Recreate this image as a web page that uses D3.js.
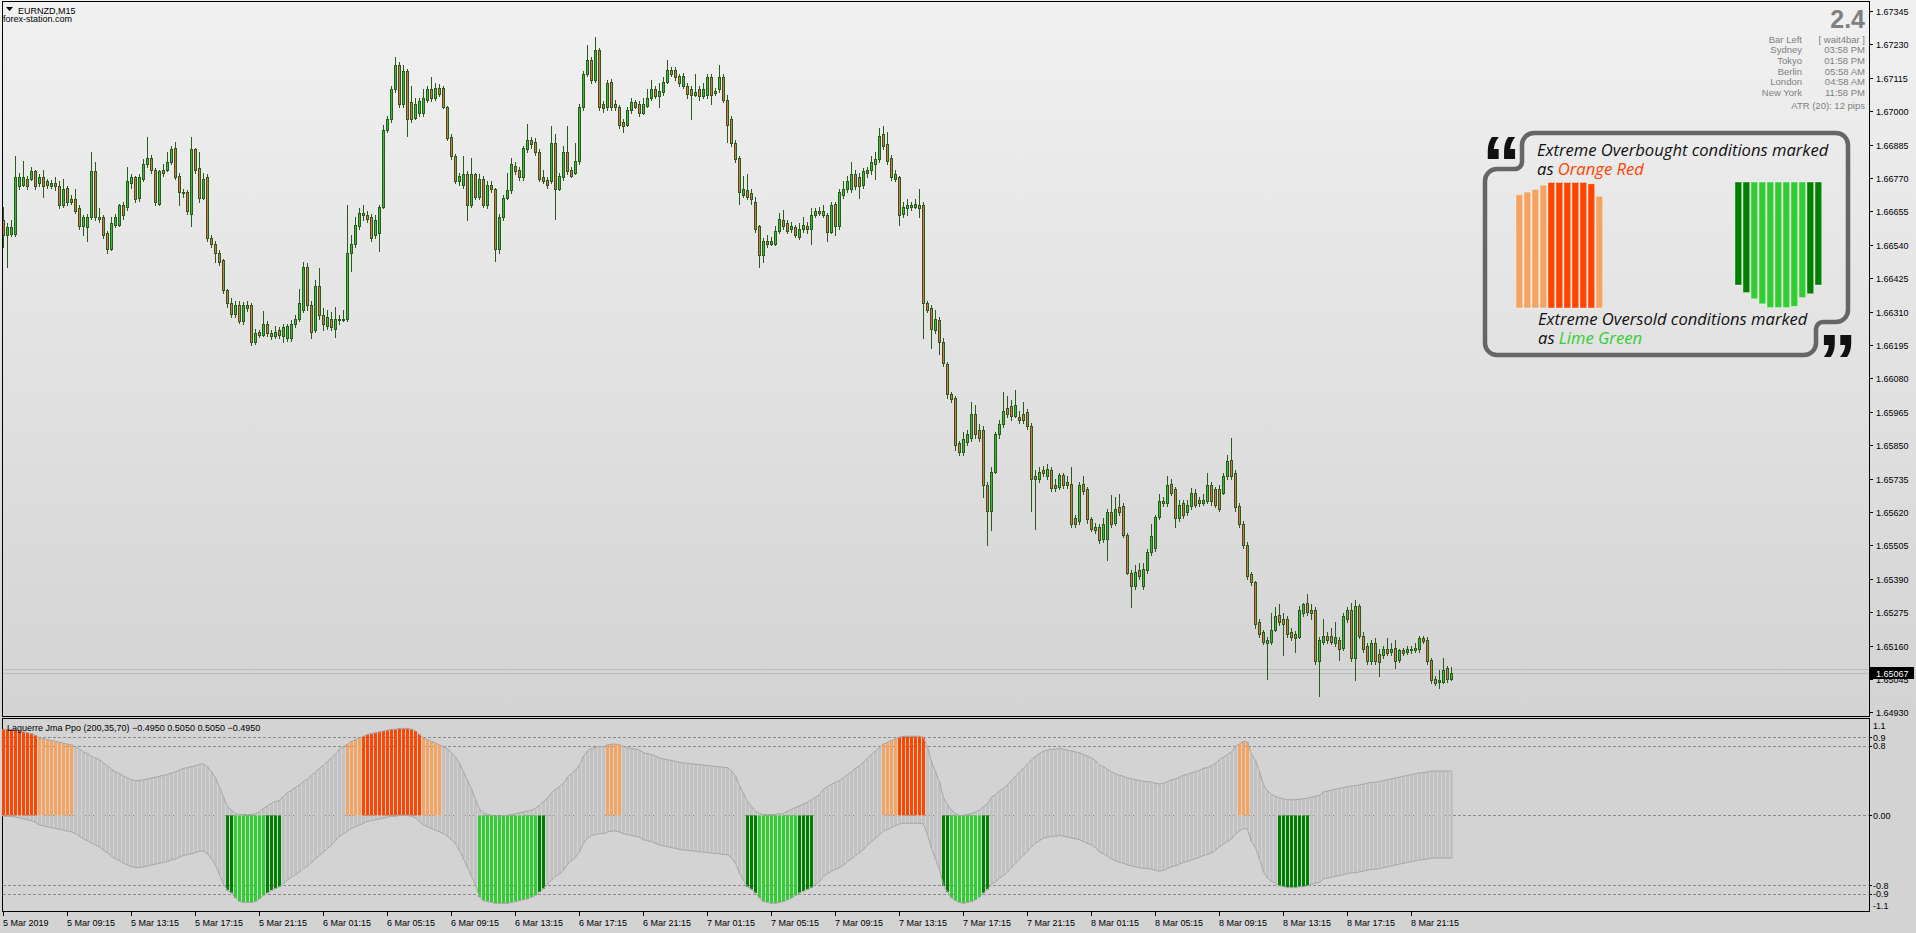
<!DOCTYPE html>
<html>
<head>
<meta charset="utf-8">
<title>EURNZD,M15</title>
<script src="https://cdn.jsdelivr.net/npm/d3@7"></script>
<style>
  html, body { margin: 0; padding: 0; background: #d3d3d3; overflow: hidden; }
  svg { display: block; }
  .mt { font-family: "Liberation Sans", Arial, sans-serif; font-size: 9px; fill: #000; }
  .info { font-family: "Liberation Sans", Arial, sans-serif; font-size: 9.5px; fill: #808080; }
  .note { font-family: "Open Sans", sans-serif; font-style: italic; font-size: 16.6px; fill: #111; }
  .quote { font-family: "Liberation Sans", Arial, sans-serif; font-weight: bold; font-size: 78px; fill: #111; }
</style>
</head>
<body>
<svg id="chart" width="1916" height="933"></svg>
<script>
// EURNZD M15 candles, 5 Mar 05:15 .. 8 Mar 23:45 (363 bars)
const opens = [
1.66624,1.66573,1.66577,1.66577,1.66743,1.66747,1.66768,1.66768,1.66795,1.66752,
1.66772,1.66758,1.66743,1.66752,1.66743,1.66676,1.66737,1.66686,1.66696,1.66665,
1.66604,1.66600,1.66635,1.66793,1.66635,1.66635,1.66579,1.66526,1.66608,1.66608,
1.66676,1.66670,1.66752,1.66772,1.66700,1.66768,1.66819,1.66840,1.66799,1.66682,
1.66799,1.66799,1.66825,1.66875,1.66778,1.66723,1.66723,1.66645,1.66871,1.66805,
1.66702,1.66772,1.66563,1.66543,1.66512,1.66487,1.66383,1.66338,1.66301,1.66333,
1.66276,1.66333,1.66333,1.66204,1.66239,1.66231,1.66266,1.66235,1.66225,1.66245,
1.66225,1.66219,1.66219,1.66266,1.66286,1.66317,1.66465,1.66333,1.66245,1.66399,
1.66297,1.66260,1.66286,1.66251,1.66286,1.66280,1.66286,1.66512,1.66543,1.66604,
1.66649,1.66641,1.66635,1.66573,1.66579,1.66670,1.66936,1.66973,1.67076,1.67158,
1.67024,1.67137,1.67030,1.66977,1.66994,1.66994,1.67039,1.67076,1.67045,1.67080,
1.67080,1.67014,1.66912,1.66846,1.66758,1.66747,1.66784,1.66676,1.66784,1.66706,
1.66768,1.66676,1.66747,1.66731,1.66526,1.66635,1.66702,1.66727,1.66813,1.66799,
1.66772,1.66871,1.66901,1.66895,1.66860,1.66772,1.66764,1.66758,1.66891,1.66731,
1.66772,1.66860,1.66799,1.66788,1.66829,1.67014,1.67127,1.67178,1.67106,1.67209,
1.67024,1.67014,1.67100,1.67024,1.67014,1.66963,1.66953,1.67004,1.67030,1.67024,
1.66994,1.67018,1.67045,1.67076,1.67051,1.67065,1.67100,1.67141,1.67141,1.67121,
1.67086,1.67086,1.67076,1.67055,1.67076,1.67051,1.67055,1.67117,1.67071,1.67076,
1.67117,1.67039,1.66973,1.66891,1.66840,1.66711,1.66727,1.66717,1.66686,1.66604,
1.66506,1.66553,1.66543,1.66543,1.66588,1.66624,1.66614,1.66594,1.66600,1.66567,
1.66594,1.66604,1.66594,1.66641,1.66655,1.66641,1.66641,1.66584,1.66682,1.66604,
1.66711,1.66731,1.66731,1.66784,1.66772,1.66747,1.66788,1.66799,1.66819,1.66834,
1.66922,1.66887,1.66840,1.66768,1.66772,1.66645,1.66665,1.66676,1.66670,1.66676,
1.66676,1.66338,1.66321,1.66245,1.66280,1.66204,1.66128,1.66026,1.66014,1.65856,
1.65825,1.65862,1.65876,1.65958,1.65903,1.65903,1.65712,1.65624,1.65759,1.65887,
1.65923,1.65979,1.65985,1.65952,1.65948,1.65958,1.65964,1.65917,1.65743,1.65733,
1.65764,1.65743,1.65764,1.65712,1.65706,1.65747,1.65723,1.65718,1.65600,1.65589,
1.65718,1.65698,1.65595,1.65569,1.65569,1.65528,1.65528,1.65620,1.65583,1.65636,
1.65641,1.65542,1.65411,1.65364,1.65419,1.65364,1.65419,1.65481,1.65497,1.65604,
1.65657,1.65651,1.65718,1.65698,1.65600,1.65651,1.65620,1.65641,1.65686,1.65661,
1.65651,1.65657,1.65712,1.65698,1.65698,1.65686,1.65743,1.65800,1.65753,1.65641,
1.65579,1.65507,1.65405,1.65378,1.65241,1.65206,1.65169,1.65173,1.65214,1.65267,
1.65251,1.65251,1.65206,1.65200,1.65190,1.65272,1.65308,1.65282,1.65282,1.65108,
1.65173,1.65194,1.65194,1.65169,1.65179,1.65153,1.65251,1.65282,1.65118,1.65296,
1.65194,1.65159,1.65108,1.65169,1.65132,1.65128,1.65149,1.65138,1.65153,1.65112,
1.65144,1.65138,1.65149,1.65144,1.65149,1.65185,1.65179,1.65112,1.65046,1.65036,
1.65036,1.65083,1.65046
];
const highs = [
1.66670,1.66614,1.66624,1.66846,1.66788,1.66829,1.66778,1.66809,1.66799,1.66784,
1.66799,1.66768,1.66764,1.66774,1.66758,1.66768,1.66743,1.66711,1.66731,1.66676,
1.66641,1.66645,1.66860,1.66825,1.66665,1.66641,1.66588,1.66635,1.66645,1.66682,
1.66686,1.66809,1.66784,1.66778,1.66784,1.66834,1.66912,1.66850,1.66805,1.66799,
1.66819,1.66860,1.66881,1.66895,1.66788,1.66731,1.66727,1.66912,1.66875,1.66860,
1.66788,1.66784,1.66573,1.66553,1.66522,1.66491,1.66389,1.66358,1.66348,1.66348,
1.66342,1.66348,1.66338,1.66251,1.66245,1.66313,1.66276,1.66245,1.66260,1.66256,
1.66266,1.66266,1.66280,1.66297,1.66389,1.66481,1.66477,1.66348,1.66420,1.66461,
1.66321,1.66317,1.66307,1.66327,1.66297,1.66317,1.66676,1.66573,1.66635,1.66665,
1.66676,1.66655,1.66645,1.66641,1.66676,1.66953,1.66983,1.67086,1.67188,1.67168,
1.67158,1.67147,1.67086,1.67045,1.67045,1.67076,1.67086,1.67117,1.67096,1.67092,
1.67086,1.67018,1.66922,1.66854,1.66788,1.66846,1.66793,1.66840,1.66788,1.66784,
1.66778,1.66758,1.66758,1.66737,1.66645,1.66711,1.66788,1.66840,1.66825,1.66809,
1.66881,1.66957,1.66912,1.66907,1.66871,1.66799,1.66772,1.66948,1.66922,1.66788,
1.66881,1.66948,1.66809,1.66891,1.67024,1.67137,1.67229,1.67188,1.67256,1.67219,
1.67035,1.67106,1.67112,1.67039,1.67022,1.66973,1.67014,1.67045,1.67039,1.67035,
1.67045,1.67076,1.67106,1.67086,1.67096,1.67117,1.67178,1.67153,1.67153,1.67127,
1.67133,1.67096,1.67086,1.67127,1.67086,1.67096,1.67127,1.67127,1.67080,1.67158,
1.67127,1.67055,1.66983,1.66901,1.66846,1.66778,1.66784,1.66731,1.66706,1.66608,
1.66563,1.66573,1.66567,1.66604,1.66649,1.66661,1.66624,1.66620,1.66608,1.66614,
1.66635,1.66620,1.66665,1.66665,1.66670,1.66676,1.66649,1.66686,1.66686,1.66731,
1.66758,1.66778,1.66825,1.66799,1.66788,1.66805,1.66809,1.66846,1.66860,1.66942,
1.66948,1.66928,1.66850,1.66799,1.66778,1.66686,1.66696,1.66686,1.66696,1.66731,
1.66686,1.66348,1.66333,1.66317,1.66292,1.66219,1.66137,1.66034,1.66020,1.65866,
1.65897,1.65903,1.65999,1.65989,1.65923,1.65917,1.65723,1.65774,1.65897,1.65938,
1.66034,1.66020,1.66005,1.66040,1.65969,1.65999,1.65973,1.65928,1.65764,1.65774,
1.65780,1.65784,1.65774,1.65733,1.65753,1.65753,1.65743,1.65774,1.65610,1.65723,
1.65743,1.65706,1.65604,1.65583,1.65579,1.65600,1.65630,1.65677,1.65671,1.65682,
1.65651,1.65548,1.65419,1.65436,1.65446,1.65446,1.65493,1.65579,1.65610,1.65682,
1.65671,1.65743,1.65733,1.65706,1.65661,1.65661,1.65661,1.65702,1.65698,1.65671,
1.65682,1.65753,1.65723,1.65706,1.65712,1.65753,1.65815,1.65876,1.65764,1.65651,
1.65589,1.65518,1.65415,1.65384,1.65251,1.65214,1.65190,1.65272,1.65292,1.65302,
1.65272,1.65261,1.65220,1.65210,1.65296,1.65308,1.65337,1.65302,1.65292,1.65190,
1.65251,1.65206,1.65220,1.65241,1.65190,1.65272,1.65292,1.65308,1.65317,1.65302,
1.65206,1.65169,1.65179,1.65185,1.65149,1.65159,1.65185,1.65169,1.65179,1.65149,
1.65153,1.65159,1.65159,1.65169,1.65194,1.65194,1.65190,1.65118,1.65056,1.65077,
1.65118,1.65091,1.65087
];
const lows = [
1.66532,1.66465,1.66571,1.66571,1.66731,1.66743,1.66731,1.66764,1.66731,1.66743,
1.66706,1.66737,1.66735,1.66727,1.66665,1.66670,1.66676,1.66682,1.66649,1.66594,
1.66573,1.66553,1.66629,1.66624,1.66620,1.66563,1.66512,1.66522,1.66600,1.66604,
1.66629,1.66661,1.66737,1.66686,1.66690,1.66758,1.66809,1.66788,1.66676,1.66676,
1.66778,1.66793,1.66819,1.66768,1.66676,1.66706,1.66645,1.66604,1.66788,1.66686,
1.66696,1.66553,1.66532,1.66481,1.66471,1.66374,1.66327,1.66292,1.66292,1.66272,
1.66266,1.66313,1.66194,1.66198,1.66223,1.66225,1.66225,1.66215,1.66219,1.66219,
1.66204,1.66210,1.66210,1.66256,1.66276,1.66307,1.66317,1.66219,1.66239,1.66286,
1.66245,1.66251,1.66245,1.66223,1.66266,1.66276,1.66276,1.66450,1.66532,1.66594,
1.66624,1.66620,1.66553,1.66563,1.66518,1.66665,1.66928,1.66963,1.67065,1.67014,
1.67014,1.66916,1.66963,1.66973,1.66983,1.66983,1.67030,1.67035,1.67039,1.67051,
1.67010,1.66901,1.66834,1.66752,1.66747,1.66737,1.66624,1.66670,1.66696,1.66696,
1.66670,1.66665,1.66723,1.66485,1.66512,1.66624,1.66696,1.66717,1.66784,1.66764,
1.66764,1.66860,1.66875,1.66850,1.66758,1.66752,1.66737,1.66752,1.66629,1.66727,
1.66764,1.66784,1.66772,1.66784,1.66819,1.67004,1.67121,1.67096,1.67100,1.67004,
1.66998,1.67004,1.67004,1.67004,1.66942,1.66928,1.66948,1.66994,1.67010,1.66983,
1.66989,1.67014,1.67039,1.67045,1.67014,1.67055,1.67096,1.67121,1.67106,1.67086,
1.67080,1.67045,1.66973,1.67051,1.67039,1.67045,1.67045,1.67024,1.67055,1.67065,
1.67030,1.66895,1.66881,1.66825,1.66682,1.66706,1.66696,1.66682,1.66584,1.66465,
1.66481,1.66532,1.66538,1.66538,1.66579,1.66594,1.66579,1.66584,1.66567,1.66559,
1.66584,1.66579,1.66543,1.66635,1.66641,1.66635,1.66553,1.66579,1.66573,1.66594,
1.66702,1.66723,1.66723,1.66731,1.66702,1.66737,1.66772,1.66784,1.66768,1.66825,
1.66871,1.66819,1.66764,1.66758,1.66608,1.66635,1.66641,1.66661,1.66665,1.66635,
1.66219,1.66307,1.66184,1.66235,1.66163,1.66122,1.66014,1.65999,1.65835,1.65815,
1.65815,1.65850,1.65866,1.65876,1.65866,1.65671,1.65507,1.65559,1.65753,1.65876,
1.65911,1.65948,1.65938,1.65948,1.65928,1.65928,1.65907,1.65624,1.65563,1.65723,
1.65743,1.65733,1.65692,1.65692,1.65698,1.65702,1.65702,1.65569,1.65569,1.65579,
1.65682,1.65583,1.65554,1.65548,1.65513,1.65518,1.65456,1.65569,1.65575,1.65610,
1.65534,1.65405,1.65292,1.65354,1.65390,1.65354,1.65411,1.65472,1.65487,1.65595,
1.65641,1.65641,1.65677,1.65569,1.65589,1.65600,1.65610,1.65630,1.65636,1.65641,
1.65645,1.65651,1.65645,1.65636,1.65624,1.65682,1.65733,1.65733,1.65624,1.65569,
1.65497,1.65390,1.65370,1.65220,1.65190,1.65165,1.65046,1.65165,1.65210,1.65230,
1.65128,1.65190,1.65179,1.65138,1.65185,1.65261,1.65267,1.65251,1.65097,1.64985,
1.65165,1.65169,1.65165,1.65159,1.65112,1.65144,1.65241,1.65108,1.65042,1.65185,
1.65138,1.65097,1.65097,1.65097,1.65056,1.65118,1.65128,1.65128,1.65083,1.65103,
1.65128,1.65132,1.65136,1.65138,1.65138,1.65169,1.65097,1.65030,1.65025,1.65015,
1.65030,1.65036,1.65042
];
const closes = [
1.66573,1.66600,1.66600,1.66772,1.66772,1.66772,1.66743,1.66793,1.66743,1.66772,
1.66743,1.66747,1.66752,1.66743,1.66676,1.66731,1.66686,1.66696,1.66655,1.66604,
1.66635,1.66635,1.66793,1.66635,1.66629,1.66573,1.66526,1.66614,1.66635,1.66676,
1.66641,1.66758,1.66772,1.66696,1.66772,1.66819,1.66840,1.66799,1.66686,1.66793,
1.66788,1.66825,1.66871,1.66772,1.66723,1.66717,1.66655,1.66871,1.66799,1.66702,
1.66768,1.66563,1.66543,1.66512,1.66481,1.66383,1.66338,1.66301,1.66333,1.66276,
1.66333,1.66321,1.66204,1.66235,1.66231,1.66266,1.66235,1.66225,1.66239,1.66231,
1.66256,1.66260,1.66266,1.66286,1.66338,1.66465,1.66333,1.66239,1.66399,1.66297,
1.66266,1.66292,1.66256,1.66286,1.66280,1.66286,1.66512,1.66543,1.66608,1.66649,
1.66641,1.66629,1.66563,1.66624,1.66670,1.66936,1.66973,1.67076,1.67158,1.67024,
1.67137,1.66973,1.66973,1.67024,1.67035,1.67045,1.67076,1.67045,1.67080,1.67059,
1.67014,1.66907,1.66846,1.66758,1.66778,1.66784,1.66676,1.66784,1.66706,1.66768,
1.66676,1.66747,1.66731,1.66526,1.66635,1.66702,1.66727,1.66819,1.66793,1.66772,
1.66875,1.66901,1.66887,1.66860,1.66768,1.66758,1.66747,1.66891,1.66731,1.66778,
1.66860,1.66793,1.66778,1.66829,1.67014,1.67127,1.67178,1.67106,1.67209,1.67014,
1.67010,1.67096,1.67014,1.67014,1.66953,1.66948,1.67004,1.67030,1.67014,1.66994,
1.67024,1.67045,1.67076,1.67051,1.67071,1.67100,1.67141,1.67127,1.67117,1.67096,
1.67121,1.67059,1.67055,1.67065,1.67051,1.67076,1.67117,1.67055,1.67063,1.67117,
1.67039,1.66953,1.66891,1.66834,1.66723,1.66731,1.66706,1.66696,1.66594,1.66506,
1.66553,1.66543,1.66553,1.66588,1.66629,1.66604,1.66588,1.66604,1.66573,1.66594,
1.66608,1.66594,1.66641,1.66655,1.66649,1.66655,1.66584,1.66676,1.66604,1.66723,
1.66731,1.66758,1.66784,1.66743,1.66743,1.66793,1.66799,1.66825,1.66834,1.66916,
1.66881,1.66829,1.66772,1.66784,1.66641,1.66670,1.66676,1.66670,1.66682,1.66665,
1.66338,1.66317,1.66251,1.66286,1.66204,1.66133,1.66026,1.66010,1.65850,1.65825,
1.65870,1.65887,1.65958,1.65887,1.65876,1.65712,1.65624,1.65759,1.65887,1.65923,
1.65969,1.65958,1.65952,1.65989,1.65938,1.65938,1.65917,1.65733,1.65733,1.65759,
1.65753,1.65768,1.65702,1.65702,1.65747,1.65712,1.65712,1.65579,1.65579,1.65712,
1.65692,1.65595,1.65563,1.65559,1.65522,1.65579,1.65620,1.65579,1.65630,1.65620,
1.65542,1.65411,1.65364,1.65415,1.65399,1.65425,1.65481,1.65538,1.65604,1.65657,
1.65651,1.65712,1.65686,1.65600,1.65645,1.65610,1.65645,1.65686,1.65645,1.65651,
1.65661,1.65712,1.65657,1.65645,1.65630,1.65743,1.65794,1.65743,1.65636,1.65579,
1.65507,1.65399,1.65378,1.65235,1.65200,1.65173,1.65179,1.65214,1.65261,1.65241,
1.65235,1.65200,1.65190,1.65185,1.65282,1.65302,1.65276,1.65272,1.65108,1.65179,
1.65194,1.65179,1.65173,1.65190,1.65149,1.65261,1.65282,1.65118,1.65296,1.65194,
1.65149,1.65108,1.65169,1.65108,1.65103,1.65149,1.65136,1.65149,1.65108,1.65144,
1.65136,1.65149,1.65144,1.65153,1.65185,1.65177,1.65108,1.65042,1.65030,1.65042,
1.65077,1.65046,1.65067
];

// Laguerre Jma Ppo (200,35,70): upper and lower band per bar
const ppoUpper = [
.99,.99,.99,.98,.97,.96,.95,.94,.92,.89, .88,.87,.86,.85,.84,.83,.82,.81,.79,.76,
.73,.71,.68,.66,.64,.60,.57,.53,.50,.48, .45,.43,.41,.40,.40,.41,.42,.43,.44,.45,
.46,.47,.49,.50,.52,.54,.55,.56,.57,.59, .59,.56,.50,.43,.32,.21,.10,.06,.02,.01,
.01,.01,.01,.02,.04,.08,.11,.14,.16,.17, .22,.26,.29,.32,.35,.39,.42,.46,.50,.54,
.58,.62,.66,.71,.76,.79,.82,.85,.87,.89, .91,.93,.94,.95,.96,.97,.98,.99,.99,1.00,
1.00,1.00,.99,.97,.93,.89,.87,.85,.83,.81, .79,.76,.72,.67,.60,.50,.40,.30,.18,.07,
.03,.01,.00,-.01,-.01,.00,.00,.01,.02,.03, .04,.05,.06,.08,.12,.16,.20,.26,.30,.33,
.37,.44,.48,.52,.58,.68,.74,.77,.78,.79, .79,.81,.82,.82,.81,.79,.78,.77,.76,.75,
.72,.71,.70,.68,.66,.65,.64,.63,.62,.61, .60,.60,.59,.59,.58,.58,.57,.57,.56,.56,
.55,.55,.51,.45,.34,.25,.16,.10,.05,.02, .01,.01,.01,.01,.02,.02,.05,.07,.09,.11,
.13,.15,.18,.21,.24,.30,.33,.36,.38,.40, .43,.47,.50,.54,.57,.61,.66,.70,.74,.78,
.82,.84,.86,.88,.90,.91,.91,.91,.91,.91, .90,.78,.62,.50,.38,.20,.12,.06,.02,.00,
.00,.01,.02,.04,.06,.10,.13,.21,.24,.28, .31,.35,.40,.45,.50,.54,.59,.64,.68,.71,
.74,.75,.76,.76,.77,.76,.75,.74,.73,.72, .70,.68,.66,.63,.58,.56,.53,.50,.48,.46,
.45,.43,.42,.41,.40,.39,.39,.38,.37,.36, .37,.39,.41,.42,.44,.46,.47,.49,.50,.52,
.54,.55,.57,.60,.64,.67,.70,.73,.79,.82, .85,.84,.70,.63,.50,.35,.28,.24,.22,.20,
.19,.18,.18,.18,.19,.19,.20,.21,.22,.23, .27,.28,.29,.30,.31,.32,.33,.34,.34,.35,
.36,.37,.38,.38,.39,.40,.41,.42,.43,.44, .45,.46,.47,.48,.49,.49,.50,.51,.51,.51,
.51,.51,.51
];
const ppoLower = [
-.01,-.01,-.01,-.02,-.03,-.04,-.05,-.06,-.08,-.11, -.12,-.13,-.14,-.15,-.16,-.17,-.18,-.19,-.21,-.24,
-.27,-.29,-.32,-.34,-.36,-.40,-.43,-.47,-.50,-.52, -.55,-.57,-.59,-.60,-.60,-.59,-.58,-.57,-.56,-.55,
-.54,-.53,-.51,-.50,-.48,-.46,-.45,-.44,-.43,-.41, -.41,-.44,-.50,-.57,-.68,-.79,-.86,-.89,-.95,-.99,
-1.00,-1.00,-1.00,-.99,-.96,-.92,-.89,-.86,-.84,-.82, -.78,-.74,-.71,-.68,-.65,-.61,-.58,-.54,-.50,-.46,
-.42,-.38,-.34,-.29,-.24,-.21,-.18,-.15,-.13,-.11, -.09,-.07,-.06,-.05,-.04,-.03,-.02,-.01,-.01,.00,
.00,.00,-.01,-.03,-.07,-.11,-.13,-.15,-.17,-.19, -.21,-.24,-.28,-.33,-.40,-.50,-.60,-.70,-.79,-.94,
-.98,-.99,-1.00,-1.01,-1.01,-1.01,-1.01,-1.00,-.99,-.98, -.97,-.96,-.94,-.92,-.88,-.84,-.79,-.74,-.70,-.67,
-.63,-.56,-.52,-.48,-.42,-.32,-.26,-.23,-.22,-.21, -.21,-.19,-.18,-.18,-.19,-.21,-.22,-.23,-.24,-.25,
-.28,-.29,-.30,-.32,-.34,-.35,-.36,-.37,-.38,-.39, -.40,-.40,-.41,-.41,-.42,-.42,-.43,-.43,-.44,-.44,
-.45,-.45,-.49,-.55,-.66,-.75,-.82,-.85,-.89,-.95, -.99,-1.00,-1.01,-1.01,-1.00,-.99,-.97,-.95,-.92,-.89,
-.87,-.85,-.83,-.79,-.76,-.70,-.67,-.64,-.62,-.60, -.57,-.53,-.50,-.46,-.43,-.39,-.34,-.30,-.26,-.22,
-.18,-.16,-.14,-.12,-.10,-.09,-.09,-.09,-.09,-.09, -.10,-.22,-.38,-.50,-.62,-.81,-.88,-.95,-.98,-1.00,
-1.01,-1.00,-.99,-.97,-.94,-.89,-.85,-.79,-.76,-.72, -.69,-.65,-.60,-.55,-.50,-.46,-.41,-.36,-.32,-.29,
-.26,-.25,-.24,-.24,-.23,-.24,-.25,-.26,-.27,-.28, -.30,-.32,-.34,-.37,-.42,-.44,-.47,-.50,-.52,-.54,
-.55,-.57,-.58,-.59,-.60,-.61,-.61,-.62,-.63,-.64, -.63,-.61,-.59,-.58,-.56,-.54,-.53,-.51,-.50,-.48,
-.46,-.45,-.43,-.40,-.36,-.33,-.30,-.27,-.21,-.18, -.15,-.16,-.30,-.37,-.50,-.65,-.72,-.76,-.78,-.81,
-.82,-.83,-.83,-.83,-.82,-.82,-.81,-.79,-.78,-.77, -.73,-.72,-.71,-.70,-.69,-.68,-.67,-.66,-.66,-.65,
-.64,-.63,-.62,-.62,-.61,-.60,-.59,-.58,-.57,-.56, -.55,-.54,-.53,-.52,-.51,-.51,-.50,-.49,-.49,-.49,
-.49,-.49,-.49
];

const priceTicks = [1.67345,1.67230,1.67115,1.67000,1.66885,1.66770,1.66655,1.66540,1.66425,1.66310,1.66195,
  1.66080,1.65965,1.65850,1.65735,1.65620,1.65505,1.65390,1.65275,1.65160,1.65045,1.64930];
const timeLabels = ['5 Mar 2019','5 Mar 09:15','5 Mar 13:15','5 Mar 17:15','5 Mar 21:15','6 Mar 01:15','6 Mar 05:15',
  '6 Mar 09:15','6 Mar 13:15','6 Mar 17:15','6 Mar 21:15','7 Mar 01:15','7 Mar 05:15','7 Mar 09:15','7 Mar 13:15',
  '7 Mar 17:15','7 Mar 21:15','8 Mar 01:15','8 Mar 05:15','8 Mar 09:15','8 Mar 13:15','8 Mar 17:15','8 Mar 21:15'];
const barsPerLabel = 16;
const bidPrice = 1.65067, askPrice = 1.65078;

const levelLines = [0.9, 0.8, 0, -0.8, -0.9];
const levelTicks = [1.1, 0.9, 0.8, 0, -0.8, -0.9, -1.1];
const levelText = ['1.1','0.9','0.8','0.00','-0.8','-0.9','-1.1'];

const infoNames = ['Bar Left','Sydney','Tokyo','Berlin','London','New York'];
const infoValues = ['[ wait4bar ]','03:58 PM','01:58 PM','05:58 AM','04:58 AM','11:58 PM'];

// sample bars inside the note
const sampleOverbought = [0.82,0.84,0.86,0.89,0.91,0.91,0.91,0.91,0.91,0.90,0.81];
const sampleOversold = [-0.82,-0.88,-0.93,-0.97,-1.0,-1.0,-1.0,-0.99,-0.92,-0.89,-0.82];

// colours
const bullFill = '#3cba3c', bearFill = '#e0704c', candleLine = '#2b5a1d';
const cRed = '#ff4500', cSandy = '#f4a460', cLime = '#32cd32', cGreen = '#008000';

function upColor(v) { return v >= 0.9 ? cRed : v >= 0.8 ? cSandy : null; }
function dnColor(v) { return v <= -0.9 ? cLime : v <= -0.8 ? cGreen : null; }

const svg = d3.select('#chart');
const fmt = d3.format('.5f');

const x = d3.scaleLinear().domain([0, closes.length - 1]).range([3.5, 3.5 + 4 * (closes.length - 1)]);
const y = d3.scaleLinear().domain([1.64930, 1.67345]).range([712.4, 11]);
const yi = d3.scaleLinear().domain([-1.1, 1.1]).range([911.1, 719.7]);
const px = v => Math.round(v) + 0.5;

// background
const grad = svg.append('defs').append('linearGradient').attr('id', 'bg')
  .attr('x1', 0).attr('y1', 0).attr('x2', 0).attr('y2', 1);
grad.append('stop').attr('offset', '0%').attr('stop-color', '#f1f1f1');
grad.append('stop').attr('offset', '100%').attr('stop-color', '#d3d3d3');
svg.append('rect').attr('width', 1916).attr('height', 717).attr('fill', 'url(#bg)');
svg.append('rect').attr('y', 717).attr('width', 1916).attr('height', 216).attr('fill', '#d3d3d3');

// bid / ask lines
[askPrice, bidPrice].forEach(p => {
  svg.append('line').attr('x1', 3).attr('x2', 1869).attr('y1', px(y(p))).attr('y2', px(y(p)))
    .attr('stroke', '#bdbdbd');
});

// candles
const candles = svg.append('g');
closes.forEach((c, i) => {
  const o = opens[i], cx = x(i);
  candles.append('line').attr('x1', cx).attr('x2', cx)
    .attr('y1', Math.round(y(highs[i]))).attr('y2', Math.round(y(lows[i])) + 1)
    .attr('stroke', candleLine);
  const top = px(y(Math.max(o, c))), bot = px(y(Math.min(o, c)));
  candles.append('rect').attr('x', cx - 1).attr('width', 2)
    .attr('y', top).attr('height', Math.max(bot - top, 0.01))
    .attr('fill', c >= o ? bullFill : bearFill)
    .attr('stroke', candleLine).attr('stroke-width', 1);
});

// frames
svg.append('rect').attr('x', 2.5).attr('y', 1.5).attr('width', 1867).attr('height', 715)
  .attr('fill', 'none').attr('stroke', '#000');
svg.append('rect').attr('x', 2.5).attr('y', 718.5).attr('width', 1867).attr('height', 193)
  .attr('fill', 'none').attr('stroke', '#000');

// price axis
const pAxis = svg.append('g');
priceTicks.forEach(p => {
  const yy = px(y(p));
  pAxis.append('line').attr('x1', 1869).attr('x2', 1873).attr('y1', yy).attr('y2', yy).attr('stroke', '#000');
  pAxis.append('text').attr('class', 'mt').attr('x', 1876).attr('y', yy + 3.5).text(fmt(p));
});
svg.append('rect').attr('x', 1870).attr('y', px(y(bidPrice)) - 6.5).attr('width', 44).attr('height', 12).attr('fill', '#000');
svg.append('text').attr('class', 'mt').attr('x', 1876).attr('y', px(y(bidPrice)) + 3.5)
  .style('fill', '#fff').text(fmt(bidPrice));

// indicator
const ind = svg.append('g');
levelLines.forEach(v => {
  ind.append('line').attr('x1', 3).attr('x2', 1869).attr('y1', px(yi(v))).attr('y2', px(yi(v)))
    .attr('stroke', '#8a8a8a').attr('stroke-dasharray', '3,2');
});
ppoUpper.forEach((u, i) => {
  const l = ppoLower[i], bx = x(i) - 1.5;
  ind.append('rect').attr('x', bx).attr('width', 3)
    .attr('y', yi(u)).attr('height', Math.max(yi(l) - yi(u), 0.5)).attr('fill', '#c2c2c2');
  const uc = upColor(u);
  if (uc) ind.append('rect').attr('x', bx).attr('width', 3)
    .attr('y', yi(u)).attr('height', yi(0) - yi(u)).attr('fill', uc);
  const dc = dnColor(l);
  if (dc) ind.append('rect').attr('x', bx).attr('width', 3)
    .attr('y', yi(0)).attr('height', yi(l) - yi(0)).attr('fill', dc);
});
const bandLine = d3.line().x((d, i) => x(i)).y(d => yi(d));
ind.append('path').attr('d', bandLine(ppoUpper)).attr('fill', 'none').attr('stroke', '#a6a6a6');
ind.append('path').attr('d', bandLine(ppoLower)).attr('fill', 'none').attr('stroke', '#a6a6a6');

ind.append('text').attr('class', 'mt').attr('x', 7).attr('y', 730.5)
  .text('Laguerre Jma Ppo (200,35,70) ' + [ppoLower[ppoLower.length - 1] - 0.005, ppoUpper[ppoUpper.length - 1] - 0.005,
    ppoUpper[ppoUpper.length - 1] - 0.005, ppoLower[ppoLower.length - 1] - 0.005].map(d3.format('.4f')).join(' '));

levelTicks.forEach((v, k) => {
  const yy = Math.min(Math.max(yi(v), 725), 905);
  if (Math.abs(v) < 1.1) ind.append('line').attr('x1', 1869).attr('x2', 1872).attr('y1', px(yi(v))).attr('y2', px(yi(v))).attr('stroke', '#000');
  ind.append('text').attr('class', 'mt').attr('x', 1873).attr('y', yy + 3.5).text(levelText[k]);
});

// time axis
timeLabels.forEach((t, k) => {
  const tx = x(k * barsPerLabel);
  svg.append('line').attr('x1', tx).attr('x2', tx).attr('y1', 912).attr('y2', 916).attr('stroke', '#000');
  svg.append('text').attr('class', 'mt').attr('x', tx - 0.5).attr('y', 925.5).text(t);
});

// title
svg.append('path').attr('d', 'M6,7L13,7L9.5,11Z').attr('fill', '#000');
svg.append('text').attr('class', 'mt').attr('x', 18).attr('y', 14).text('EURNZD,M15');
svg.append('text').attr('class', 'mt').attr('x', 3).attr('y', 21.5).text('forex-station.com');

// info panel
svg.append('text').attr('x', 1865).attr('y', 27.5).attr('text-anchor', 'end')
  .style('font-family', '"Liberation Sans", Arial, sans-serif').style('font-weight', 'bold')
  .style('font-size', '25px').style('fill', '#808080').text('2.4');
infoNames.forEach((n, k) => {
  const yy = 42.5 + k * 10.7;
  svg.append('text').attr('class', 'info').attr('x', 1802).attr('y', yy).attr('text-anchor', 'end').text(n);
  svg.append('text').attr('class', 'info').attr('x', 1865).attr('y', yy).attr('text-anchor', 'end').text(infoValues[k]);
});
svg.append('text').attr('class', 'info').attr('x', 1865).attr('y', 108.5).attr('text-anchor', 'end').text('ATR (20): 12 pips');

// note box
const note = svg.append('g');
const boxPts = [[1522,133],[1848,133],[1848,322],[1816,322],[1816,355],[1485,355],[1485,169],[1522,169]];
const bp = d3.path();
bp.moveTo(1522, 151);
boxPts.forEach((a, k) => {
  const b = boxPts[(k + 1) % boxPts.length];
  bp.arcTo(a[0], a[1], b[0], b[1], (k === 3 || k === 7) ? 7 : 12);
});
bp.closePath();
note.append('path').attr('d', bp.toString()).attr('fill', 'none').attr('stroke', '#666').attr('stroke-width', 4.5);

note.append('text').attr('class', 'quote').attr('x', 1482).attr('y', 191).text('\u201C');
note.append('text').attr('class', 'quote').attr('x', 1818).attr('y', 389).text('\u201D');

note.append('text').attr('class', 'note').attr('x', 1537).attr('y', 156).text('Extreme Overbought conditions marked');
const t2 = note.append('text').attr('class', 'note').attr('x', 1537).attr('y', 175);
t2.append('tspan').text('as ');
t2.append('tspan').style('fill', cRed).text('Orange Red');
note.append('text').attr('class', 'note').attr('x', 1538).attr('y', 325).text('Extreme Oversold conditions marked');
const t4 = note.append('text').attr('class', 'note').attr('x', 1538).attr('y', 344);
t4.append('tspan').text('as ');
t4.append('tspan').style('fill', cLime).text('Lime Green');

const sx1 = d3.scaleLinear().domain([0, 10]).range([1516, 1596]);
const sy1 = d3.scaleLinear().domain([0, 1]).range([308, 170]);
sampleOverbought.forEach((v, k) => {
  note.append('rect').attr('x', sx1(k)).attr('width', 6.7).attr('y', sy1(v)).attr('height', sy1(0) - sy1(v))
    .attr('fill', upColor(v)).attr('stroke', 'rgba(255,255,255,0.45)').attr('stroke-width', 0.8);
});
const sx2 = d3.scaleLinear().domain([0, 10]).range([1735, 1815]);
const sy2 = d3.scaleLinear().domain([0, -1]).range([182, 307.6]);
sampleOversold.forEach((v, k) => {
  note.append('rect').attr('x', sx2(k)).attr('width', 6.7).attr('y', sy2(0)).attr('height', sy2(v) - sy2(0))
    .attr('fill', dnColor(v)).attr('stroke', 'rgba(255,255,255,0.45)').attr('stroke-width', 0.8);
});
</script>
</body>
</html>
